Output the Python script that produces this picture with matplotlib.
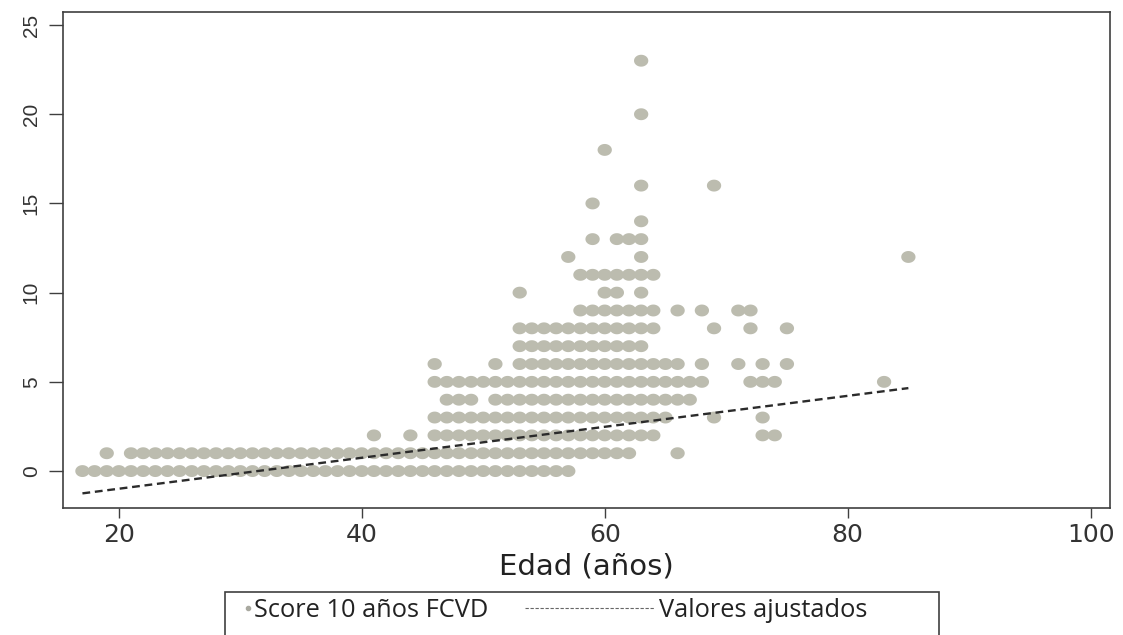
import numpy as np
import matplotlib
matplotlib.use("Agg")
import matplotlib.pyplot as plt
from matplotlib.lines import Line2D
from matplotlib.patches import Rectangle

# Edades observadas para cada valor del score (score entero, edad entera)
edad_s0 = [17, 18, 19, 20, 21, 22, 23, 24, 25, 26, 27, 28, 29, 30, 31, 32, 33, 34, 35, 36, 37,
           38, 39, 40, 41, 42, 43, 44, 45, 46, 47, 48, 49, 50, 51, 52, 53, 54, 55, 56, 57]
edad_s1 = [19, 21, 22, 23, 24, 25, 26, 27, 28, 29, 30, 31, 32, 33, 34, 35, 36, 37, 38, 39, 40,
           41, 42, 43, 44, 45, 46, 47, 48, 49, 50, 51, 52, 53, 54, 55, 56, 57, 58, 59, 60, 61,
           62, 66]
edad_s2 = [41, 44, 46, 47, 48, 49, 50, 51, 52, 53, 54, 55, 56, 57, 58, 59, 60, 61, 62, 63, 64,
           73, 74]
edad_s3 = [46, 47, 48, 49, 50, 51, 52, 53, 54, 55, 56, 57, 58, 59, 60, 61, 62, 63, 64, 65,
           69, 73]
edad_s4 = [47, 48, 49, 51, 52, 53, 54, 55, 56, 57, 58, 59, 60, 61, 62, 63, 64, 65, 66, 67]
edad_s5 = [46, 47, 48, 49, 50, 51, 52, 53, 54, 55, 56, 57, 58, 59, 60, 61, 62, 63, 64, 65, 66,
           67, 68, 72, 73, 74, 83]
edad_s6 = [46, 51, 53, 54, 55, 56, 57, 58, 59, 60, 61, 62, 63, 64, 65, 66, 68, 71, 73, 75]
edad_s7 = [53, 54, 55, 56, 57, 58, 59, 60, 61, 62, 63]
edad_s8 = [53, 54, 55, 56, 57, 58, 59, 60, 61, 62, 63, 64, 69, 72, 75]
edad_s9 = [58, 59, 60, 61, 62, 63, 64, 66, 68, 71, 72]
edad_s10 = [53, 60, 61, 63]
edad_s11 = [58, 59, 60, 61, 62, 63, 64]
edad_s12 = [57, 63, 85]
edad_s13 = [59, 61, 62, 63]
edad_s14 = [63]
edad_s15 = [59]
edad_s16 = [63, 69]
edad_s18 = [60]
edad_s20 = [63]
edad_s23 = [63]

scores = [0, 1, 2, 3, 4, 5, 6, 7, 8, 9, 10, 11, 12, 13, 14, 15, 16, 18, 20, 23]
edades = [edad_s0, edad_s1, edad_s2, edad_s3, edad_s4, edad_s5, edad_s6, edad_s7, edad_s8,
          edad_s9, edad_s10, edad_s11, edad_s12, edad_s13, edad_s14, edad_s15, edad_s16,
          edad_s18, edad_s20, edad_s23]

# Recta de regresion lineal (valores ajustados) en los extremos de edad
fit_edad = [17, 85]
fit_valor = [-1.25, 4.65]

x_ticks = [20, 40, 60, 80, 100]
y_ticks = [0, 5, 10, 15, 20, 25]

W, H = 1123, 635
punto_color = "#bcbcaf"
eje_color = "#3f3f3f"

# marcador algo ensanchado, los puntos contiguos forman bandas
t = np.linspace(0, 2 * np.pi, 41)
marcador = list(zip(1.2 * np.cos(t), np.sin(t)))

fig = plt.figure(figsize=(W / 100, H / 100), dpi=100)
fig.patch.set_facecolor("white")
ax = fig.add_axes([63 / W, 1 - 508 / H, (1110 - 63) / W, (508 - 12) / H])

xs, ys = [], []
for s, lista in zip(scores, edades):
    xs.extend(lista)
    ys.extend([s] * len(lista))
ax.scatter(xs, ys, s=106, marker=marcador, color=punto_color, edgecolors="none", zorder=2)

ax.plot(fit_edad, fit_valor, color="#2b2b2b", lw=1.7, dashes=(3.3, 2.0), zorder=3)

ax.set_xlim(15.4, 101.6)
ax.set_ylim(-2.07, 25.73)
ax.set_xticks(x_ticks)
ax.set_yticks(y_ticks)
ax.set_xticklabels([str(v) for v in x_ticks], fontsize=18, family="DejaVu Sans", color="#333333")
ax.set_yticklabels([str(v) for v in y_ticks], fontsize=15, family="Liberation Sans",
                   color="#333333", rotation=90, va="center")
ax.tick_params(axis="x", length=7, width=1, color=eje_color, pad=4)
ax.tick_params(axis="y", length=10, width=1, color=eje_color, pad=6)
for sp in ax.spines.values():
    sp.set_color(eje_color)
    sp.set_linewidth(1.2)

ax.set_xlabel("Edad (años)", fontsize=21, family="DejaVu Sans", color="#222222", va="baseline")
ax.xaxis.set_label_coords(0.5, ((1 - 575 / H) - (1 - 508 / H)) / ((508 - 12) / H))

# Leyenda al pie, dibujada a mano como en la salida de Stata
fig.add_artist(Rectangle((225 / W, -0.05), (939 - 225) / W, (1 - 592 / H) + 0.05,
                         transform=fig.transFigure, fill=False, edgecolor=eje_color, lw=1.2))
y_ley = 1 - 608 / H
y_base = 1 - 617 / H
fig.add_artist(Line2D([248 / W], [y_ley], transform=fig.transFigure, marker="o", ms=3,
                      color="#a9a9a0", lw=0))
fig.text(254 / W, y_base, "Score 10 años FCVD", fontsize=18.3, family="Open Sans",
         color="#222222", va="baseline", ha="left")
fig.add_artist(Line2D([525 / W, 655 / W], [y_ley, y_ley], transform=fig.transFigure,
                      color="#666666", lw=0.8, dashes=(3, 1.5)))
fig.text(659 / W, y_base, "Valores ajustados", fontsize=18.3, family="Open Sans",
         color="#222222", va="baseline", ha="left")

fig.savefig("out.png", dpi=100)
